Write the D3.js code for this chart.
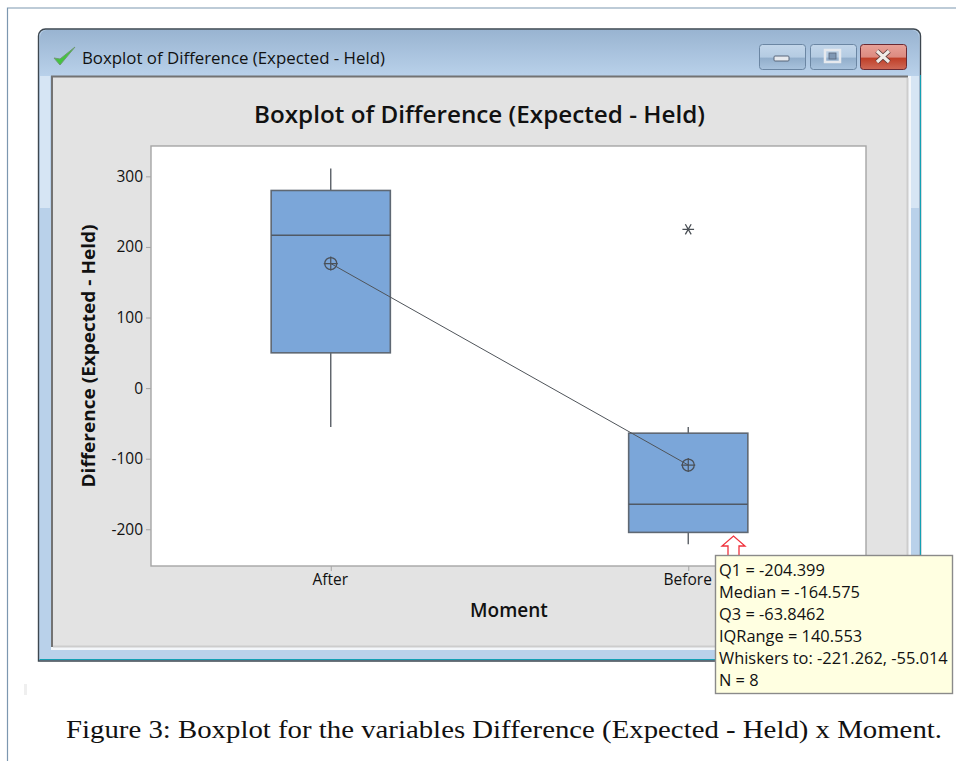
<!DOCTYPE html>
<html>
<head>
<meta charset="utf-8">
<script src="https://cdn.jsdelivr.net/npm/d3@7"></script>
<style>
  html, body { margin: 0; padding: 0; background: #fff; }
  svg { display: block; }
  text { font-family: "Open Sans", "Noto Sans", sans-serif; fill: #111; }
  text.caption { font-family: "Liberation Serif", serif; }
</style>
</head>
<body>
<div id="chartArea"></div>
<script>
// values
const moments = ["After", "Before"];
const q1 = [50, -204.399];
const medians = [216.5, -164.575];
const q3 = [280, -63.8462];
const whiskerLow = [-55, -221.262];
const whiskerHigh = [311, -55.014];
const means = [176.5, -109];
const outliers = [{ moment: "Before", value: 225 }];
const yTicks = [-200, -100, 0, 100, 200, 300];
const tooltipLines = [
  "Q1 = -204.399",
  "Median = -164.575",
  "Q3 = -63.8462",
  "IQRange = 140.553",
  "Whiskers to: -221.262, -55.014",
  "N = 8"
];

const boxes = moments.map((m, i) => ({
  moment: m, q1: q1[i], median: medians[i], q3: q3[i],
  low: whiskerLow[i], high: whiskerHigh[i], mean: means[i]
}));

const svg = d3.select("#chartArea").append("svg")
  .attr("width", 956)
  .attr("height", 761);

const defs = svg.append("defs");
const grad = (id, stops) => {
  const g = defs.append("linearGradient").attr("id", id)
    .attr("x1", 0).attr("y1", 0).attr("x2", 0).attr("y2", 1);
  stops.forEach(s => g.append("stop").attr("offset", s[0]).attr("stop-color", s[1]));
};
grad("titleBar", [[0, "#99b4d1"], [1, "#b9d1ea"]]);
grad("btnBlue", [[0, "#c3d6ea"], [0.5, "#b4cbe2"], [0.55, "#92aecb"], [1, "#a9c3dd"]]);
grad("btnRed", [[0, "#e8a198"], [0.5, "#dc8b80"], [0.55, "#bf3f28"], [1, "#cf6a58"]]);

// page frame of the paper scan
svg.append("path")
  .attr("d", "M956,8H7.5V761")
  .attr("fill", "none")
  .attr("stroke", "#7c97b0")
  .attr("stroke-width", 1.2);
svg.append("rect")
  .attr("x", 24).attr("y", 684).attr("width", 3).attr("height", 11)
  .attr("fill", "#efefef");

// window frame
svg.append("path")
  .attr("d", "M38.5,661V36a7,7 0 0 1 7,-7H913a7,7 0 0 1 7.5,7V661Z")
  .attr("fill", "#b9d1ea")
  .attr("stroke", "#3d4750")
  .attr("stroke-width", 1.4);
svg.append("path")
  .attr("d", "M40,76V37a7,7 0 0 1 7,-7H912a7,7 0 0 1 7,7V76Z")
  .attr("fill", "url(#titleBar)");
// lighter reflection on the upper side borders
svg.append("rect").attr("x", 40).attr("y", 76).attr("width", 10).attr("height", 132).attr("fill", "#d6e5f4");
svg.append("rect").attr("x", 911).attr("y", 76).attr("width", 8).attr("height", 132).attr("fill", "#d6e5f4");
svg.append("path")
  .attr("d", "M39.5,659.5H920.5V75")
  .attr("fill", "none")
  .attr("stroke", "#12a0b4")
  .attr("stroke-width", 1);

// inner panel
svg.append("rect")
  .attr("x", 51).attr("y", 76).attr("width", 860).attr("height", 574)
  .attr("fill", "#f4f7fa");
svg.append("rect")
  .attr("x", 51).attr("y", 76).attr("width", 857).attr("height", 571)
  .attr("fill", "#e3e3e3");
svg.append("path")
  .attr("d", "M52,647V76.5H908")
  .attr("fill", "none")
  .attr("stroke", "#737373")
  .attr("stroke-width", 2);
svg.append("path")
  .attr("d", "M53,646.5H907.5V78")
  .attr("fill", "none")
  .attr("stroke", "#cdcdcd")
  .attr("stroke-width", 2);

// title bar content
svg.append("path")
  .attr("d", "M54,58L60,65L75,47L60,59Z")
  .attr("fill", "#43c53f")
  .attr("stroke", "#6f9a73")
  .attr("stroke-width", 1);
svg.append("text")
  .attr("x", 82).attr("y", 63.5)
  .attr("font-size", 16.5)
  .attr("textLength", 303)
  .attr("lengthAdjust", "spacingAndGlyphs")
  .attr("fill", "#1c2433")
  .text("Boxplot of Difference (Expected - Held)");

const buttons = [
  { x: 759, w: 46, fill: "url(#btnBlue)", stroke: "#6b86a3" },
  { x: 810, w: 46, fill: "url(#btnBlue)", stroke: "#6b86a3" },
  { x: 860, w: 46, fill: "url(#btnRed)", stroke: "#6a2a33" }
];
svg.selectAll("rect.btn").data(buttons).enter().append("rect")
  .attr("class", "btn")
  .attr("x", d => d.x + 0.5).attr("y", 44.5)
  .attr("width", d => d.w).attr("height", 25)
  .attr("rx", 3)
  .attr("fill", d => d.fill)
  .attr("stroke", d => d.stroke);
svg.append("rect")
  .attr("x", 774).attr("y", 56).attr("width", 15).attr("height", 5).attr("rx", 1)
  .attr("fill", "#e6e9ee").attr("stroke", "#59677a");
svg.append("rect")
  .attr("x", 825).attr("y", 50).attr("width", 15).attr("height", 12)
  .attr("fill", "none").attr("stroke", "#e6e9ee").attr("stroke-width", 2.5);
svg.append("rect")
  .attr("x", 829).attr("y", 53).attr("width", 7).attr("height", 6)
  .attr("fill", "#8098b4").attr("stroke", "#59677a").attr("stroke-width", 0.8);
svg.append("path")
  .attr("d", "M877,51L889,62M889,51L877,62")
  .attr("stroke", "#5a3a3a").attr("stroke-width", 5);
svg.append("path")
  .attr("d", "M877,51L889,62M889,51L877,62")
  .attr("stroke", "#f0ece8").attr("stroke-width", 3.2);

// plot
const plotLeft = 151, plotRight = 866, plotTop = 146, plotBottom = 566;

const x = d3.scalePoint()
  .domain(moments)
  .range([plotLeft + 1, plotRight + 1])
  .padding(0.5);
const boxWidth = x.step() / 3;

const y = d3.scaleLinear()
  .domain([-252, 343])
  .range([plotBottom, plotTop]);

svg.append("rect")
  .attr("x", plotLeft).attr("y", plotTop)
  .attr("width", plotRight - plotLeft).attr("height", plotBottom - plotTop)
  .attr("fill", "#fff")
  .attr("stroke", "#a5a5a5")
  .attr("stroke-width", 1.4);

const yAxis = svg.append("g")
  .attr("transform", `translate(${plotLeft},0)`)
  .call(d3.axisLeft(y).tickValues(yTicks).tickFormat(String).tickSize(5).tickPadding(3));
const xAxis = svg.append("g")
  .attr("transform", `translate(0,${plotBottom})`)
  .call(d3.axisBottom(x).tickSize(5).tickPadding(3));
[yAxis, xAxis].forEach(a => {
  a.select(".domain").remove();
  a.selectAll("line").attr("stroke", "#a5a5a5");
  a.selectAll("text").attr("font-size", 15.5).attr("font-weight", 500)
    .attr("font-family", "'Open Sans', sans-serif").attr("fill", "#1c1c2a");
});
xAxis.selectAll("text").attr("dx", -1);

// whiskers
svg.selectAll("line.whisker").data(boxes).enter().append("line")
  .attr("class", "whisker")
  .attr("x1", d => x(d.moment)).attr("x2", d => x(d.moment))
  .attr("y1", d => y(d.low)).attr("y2", d => y(d.high))
  .attr("stroke", "#5a5f66")
  .attr("stroke-width", 1.4);

// boxes
svg.selectAll("rect.box").data(boxes).enter().append("rect")
  .attr("class", "box")
  .attr("x", d => x(d.moment) - boxWidth / 2)
  .attr("y", d => y(d.q3))
  .attr("width", boxWidth)
  .attr("height", d => y(d.q1) - y(d.q3))
  .attr("fill", "#7ba6d9")
  .attr("stroke", "#5f6873")
  .attr("stroke-width", 1.6);

svg.selectAll("line.median").data(boxes).enter().append("line")
  .attr("class", "median")
  .attr("x1", d => x(d.moment) - boxWidth / 2)
  .attr("x2", d => x(d.moment) + boxWidth / 2)
  .attr("y1", d => y(d.median)).attr("y2", d => y(d.median))
  .attr("stroke", "#505965")
  .attr("stroke-width", 1.6);

// line connecting the means
svg.append("path")
  .datum(boxes)
  .attr("d", d3.line().x(d => x(d.moment)).y(d => y(d.mean)))
  .attr("fill", "none")
  .attr("stroke", "#4f545a")
  .attr("stroke-width", 1);

const meanMarks = svg.selectAll("g.mean").data(boxes).enter().append("g")
  .attr("class", "mean")
  .attr("transform", d => `translate(${x(d.moment)},${y(d.mean)})`);
meanMarks.append("circle")
  .attr("r", 6)
  .attr("fill", "none")
  .attr("stroke", "#4a5058")
  .attr("stroke-width", 1.3);
meanMarks.append("path")
  .attr("d", "M-7,0H7M0,-7V7")
  .attr("stroke", "#4a5058")
  .attr("stroke-width", 1.2);

// outlier
svg.selectAll("path.outlier").data(outliers).enter().append("path")
  .attr("class", "outlier")
  .attr("transform", d => `translate(${x(d.moment)},${y(d.value)}) rotate(90)`)
  .attr("d", d3.symbol(d3.symbolAsterisk, 95))
  .attr("fill", "none")
  .attr("stroke", "#4a4f55")
  .attr("stroke-width", 1.3);

// titles
svg.append("text")
  .attr("x", 479.5).attr("y", 123)
  .attr("text-anchor", "middle")
  .attr("font-size", 24)
  .attr("font-weight", 600)
  .attr("textLength", 451)
  .attr("lengthAdjust", "spacingAndGlyphs")
  .text("Boxplot of Difference (Expected - Held)");
svg.append("text")
  .attr("x", 509).attr("y", 617)
  .attr("text-anchor", "middle")
  .attr("font-size", 19)
  .attr("font-weight", 600)
  .text("Moment");
svg.append("text")
  .attr("transform", "translate(95,356) rotate(-90)")
  .attr("text-anchor", "middle")
  .attr("font-size", 18.5)
  .attr("font-weight", 700)
  .attr("textLength", 263)
  .attr("lengthAdjust", "spacingAndGlyphs")
  .text("Difference (Expected - Held)");

// hover arrow and tooltip
svg.append("path")
  .attr("d", "M728,556V546H722L733.5,536L745,546H739V556")
  .attr("fill", "#fff")
  .attr("stroke", "#f0323c")
  .attr("stroke-width", 1.3);
svg.append("rect")
  .attr("x", 715.5).attr("y", 555.5).attr("width", 237).attr("height", 138)
  .attr("fill", "#ffffe1")
  .attr("stroke", "#8a8a8a")
  .attr("stroke-width", 1.4);
svg.selectAll("text.tip").data(tooltipLines).enter().append("text")
  .attr("class", "tip")
  .attr("x", 719)
  .attr("y", (d, i) => 575.5 + i * 22)
  .attr("font-size", 16.4)
  .attr("fill", "#1c2433")
  .text(d => d);

// caption of the paper
svg.append("text")
  .attr("class", "caption")
  .attr("x", 66).attr("y", 738)
  .attr("font-size", 26)
  .attr("textLength", 876)
  .attr("lengthAdjust", "spacingAndGlyphs")
  .text("Figure 3: Boxplot for the variables Difference (Expected - Held) x Moment.");
</script>
</body>
</html>
